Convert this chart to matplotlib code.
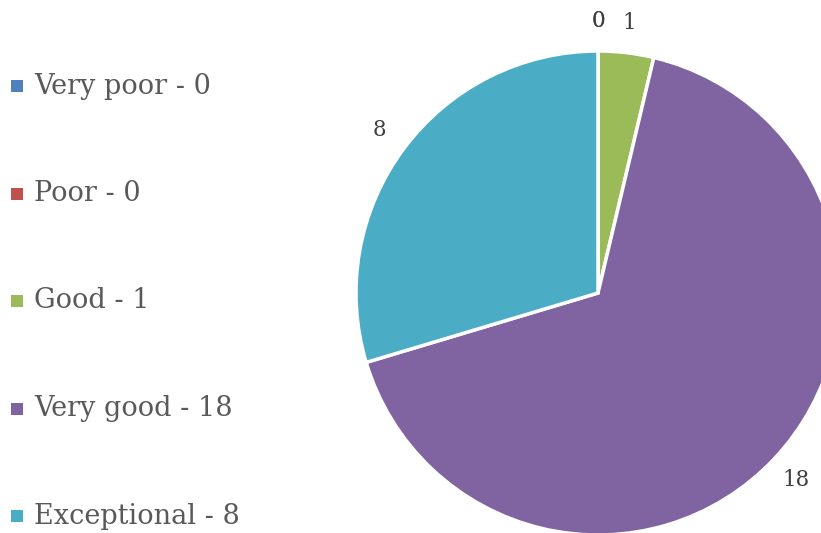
import matplotlib.pyplot as plt
from matplotlib.patches import Rectangle

# survey ratings
categories = ["Very poor", "Poor", "Good", "Very good", "Exceptional"]
counts = [0, 0, 1, 18, 8]
colors = ["#4F81BD", "#C0504D", "#9BBB59", "#8064A2", "#4BACC6"]

W, H = 821, 533
fig = plt.figure(figsize=(W / 100, H / 100), dpi=100)

# pie axes: centre (598, 293) px, radius 242 px
cx, cy, r = 598, 293, 242
ax = fig.add_axes([(cx - r) / W, (H - cy - r) / H, 2 * r / W, 2 * r / H])
wedges, texts = ax.pie(
    counts,
    colors=colors,
    startangle=90,
    counterclock=False,
    labels=[str(c) for c in counts],
    labeldistance=1.125,
    wedgeprops=dict(edgecolor="white", linewidth=2.5),
    textprops=dict(family="DejaVu Serif", fontsize=15.5, color="#404040"),
)
for t in texts:
    t.set_ha("center")
    t.set_va("center")
    t.set_clip_on(False)
for w in wedges:
    w.set_clip_on(False)
ax.set_xlim(-1, 1)
ax.set_ylim(-1, 1)
ax.set_aspect("equal")
ax.axis("off")

# legend drawn by hand down the left side
top, step = 86, 107.5
for i, (name, val, col) in enumerate(zip(categories, counts, colors)):
    y = H - (top + i * step)
    fig.patches.append(Rectangle((11 / W, (y - 6) / H), 12 / W, 12 / H,
                                 transform=fig.transFigure, facecolor=col,
                                 edgecolor="none"))
    fig.text(34 / W, y / H, f"{name} - {val}", family="DejaVu Serif",
             fontsize=19.5, color="#595959", va="center", ha="left")

fig.savefig("out.png", dpi=100)
